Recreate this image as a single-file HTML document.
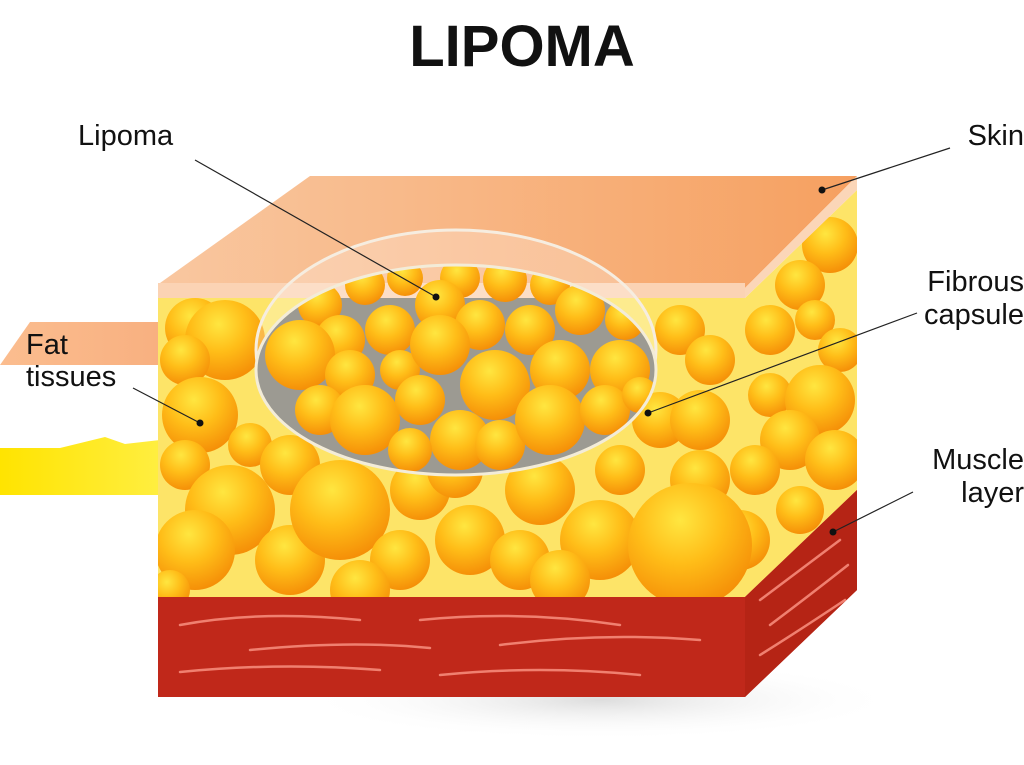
<!DOCTYPE html>
<html><head><meta charset="utf-8"><style>
body{margin:0;background:#fff;width:1024px;height:765px;overflow:hidden}
svg{display:block}
text{font-family:"Liberation Sans",sans-serif;fill:#111}
</style></head><body>
<svg width="1024" height="765" viewBox="0 0 1024 765">
<defs>
<radialGradient id="b" cx="0.42" cy="0.3" r="0.7">
<stop offset="0" stop-color="#ffe640"/><stop offset="0.5" stop-color="#ffbd18"/><stop offset="1" stop-color="#f59008"/></radialGradient>
<linearGradient id="skin" x1="0" x2="1"><stop offset="0" stop-color="#f9c7a0"/><stop offset="1" stop-color="#f6a060"/></linearGradient>
<linearGradient id="flapy" x1="0" x2="1"><stop offset="0" stop-color="#ffe400"/><stop offset="1" stop-color="#ffee40"/></linearGradient>
<linearGradient id="flapp" x1="0" x2="1"><stop offset="0" stop-color="#fbbd8f"/><stop offset="1" stop-color="#f8b080"/></linearGradient>
<radialGradient id="sh" cx="0.5" cy="0.5" r="0.5"><stop offset="0" stop-color="#ddd"/><stop offset="1" stop-color="#fff" stop-opacity="0"/></radialGradient>
<clipPath id="fat"><polygon points="158,298 745,298 857,190 857,490 745,597 158,597"/></clipPath>
<clipPath id="cap"><ellipse cx="456" cy="370" rx="200" ry="105"/></clipPath>
</defs>
<text x="522" y="66" text-anchor="middle" font-size="58" font-weight="bold">LIPOMA</text>
<ellipse cx="600" cy="700" rx="300" ry="40" fill="url(#sh)"/>
<polygon points="30,322 160,322 160,365 0,365" fill="url(#flapp)"/>
<path d="M0,448 L60,448 L105,437 L125,444 L160,440 L160,495 L0,495 Z" fill="url(#flapy)"/>
<polygon points="158,298 745,298 857,190 857,490 745,597 158,597" fill="#fde468"/>
<g clip-path="url(#fat)" fill="url(#b)">
<circle cx="195" cy="328" r="30"/><circle cx="225" cy="340" r="40"/><circle cx="185" cy="360" r="25"/><circle cx="200" cy="415" r="38"/><circle cx="185" cy="465" r="25"/><circle cx="250" cy="445" r="22"/><circle cx="290" cy="465" r="30"/><circle cx="230" cy="510" r="45"/><circle cx="195" cy="550" r="40"/><circle cx="290" cy="560" r="35"/><circle cx="340" cy="510" r="50"/><circle cx="400" cy="560" r="30"/><circle cx="420" cy="490" r="30"/><circle cx="470" cy="540" r="35"/><circle cx="520" cy="560" r="30"/><circle cx="540" cy="490" r="35"/><circle cx="600" cy="540" r="40"/><circle cx="660" cy="420" r="28"/><circle cx="680" cy="330" r="25"/><circle cx="710" cy="360" r="25"/><circle cx="700" cy="420" r="30"/><circle cx="700" cy="480" r="30"/><circle cx="740" cy="540" r="30"/><circle cx="690" cy="545" r="62"/><circle cx="620" cy="470" r="25"/><circle cx="560" cy="580" r="30"/><circle cx="360" cy="590" r="30"/><circle cx="170" cy="590" r="20"/><circle cx="455" cy="470" r="28"/>
<circle cx="830" cy="245" r="28"/><circle cx="800" cy="285" r="25"/><circle cx="770" cy="330" r="25"/><circle cx="815" cy="320" r="20"/><circle cx="840" cy="350" r="22"/><circle cx="770" cy="395" r="22"/><circle cx="820" cy="400" r="35"/><circle cx="790" cy="440" r="30"/><circle cx="835" cy="460" r="30"/><circle cx="800" cy="510" r="24"/><circle cx="755" cy="470" r="25"/>
</g>
<polygon points="158,597 745,597 857,490 857,590 745,697 158,697" fill="#c0281a"/>
<polygon points="745,597 857,490 857,590 745,697" fill="#b52415"/>
<g fill="none" stroke="#f08070" stroke-width="2.5" stroke-linecap="round">
<path d="M180,625 Q260,610 360,620"/><path d="M420,620 Q520,610 620,625"/><path d="M250,650 Q350,640 430,648"/><path d="M500,645 Q600,632 700,640"/><path d="M180,672 Q280,662 380,670"/><path d="M440,675 Q540,665 640,675"/><path d="M760,600 Q800,570 840,540"/><path d="M770,625 Q810,595 848,565"/><path d="M760,655 Q800,630 845,600"/>
</g>
<polygon points="160,283 310,176 857,176 745,288" fill="url(#skin)"/>
<polygon points="745,288 857,176 857,190 745,298" fill="#fbd6b8"/>
<rect x="158" y="283" width="587" height="15" fill="#fbd3b4"/>
<ellipse cx="456" cy="350" rx="200" ry="120" fill="#fff" fill-opacity="0.25" stroke="#f6ede0" stroke-width="3"/>
<path d="M256,298 L656,298 A200,105 0 0 1 456,475 A200,105 0 0 1 256,298 Z" fill="#9c9a92" clip-path="url(#cap)"/>
<g clip-path="url(#cap)" fill="url(#b)">
<circle cx="320" cy="305" r="22"/><circle cx="365" cy="285" r="20"/><circle cx="405" cy="278" r="18"/><circle cx="460" cy="278" r="20"/><circle cx="505" cy="280" r="22"/><circle cx="550" cy="285" r="20"/><circle cx="440" cy="305" r="25"/><circle cx="390" cy="330" r="25"/><circle cx="340" cy="340" r="25"/><circle cx="480" cy="325" r="25"/><circle cx="530" cy="330" r="25"/><circle cx="580" cy="310" r="25"/><circle cx="625" cy="320" r="20"/><circle cx="300" cy="355" r="35"/><circle cx="350" cy="375" r="25"/><circle cx="400" cy="370" r="20"/><circle cx="440" cy="345" r="30"/><circle cx="495" cy="385" r="35"/><circle cx="560" cy="370" r="30"/><circle cx="620" cy="370" r="30"/><circle cx="320" cy="410" r="25"/><circle cx="365" cy="420" r="35"/><circle cx="420" cy="400" r="25"/><circle cx="460" cy="440" r="30"/><circle cx="410" cy="450" r="22"/><circle cx="500" cy="445" r="25"/><circle cx="550" cy="420" r="35"/><circle cx="605" cy="410" r="25"/><circle cx="640" cy="395" r="18"/>
</g>
<ellipse cx="456" cy="370" rx="200" ry="105" fill="none" stroke="#f3ecd8" stroke-width="3"/>
<g stroke="#222" stroke-width="1.2"><line x1="195" y1="160" x2="436" y2="297"/><line x1="950" y1="148" x2="822" y2="190"/><line x1="917" y1="313" x2="648" y2="413"/><line x1="133" y1="388" x2="200" y2="423"/><line x1="913" y1="492" x2="833" y2="532"/></g>
<g fill="#111"><circle cx="436" cy="297" r="3.5"/><circle cx="822" cy="190" r="3.5"/><circle cx="648" cy="413" r="3.5"/><circle cx="200" cy="423" r="3.5"/><circle cx="833" cy="532" r="3.5"/></g>
<g font-size="29">
<text x="78" y="145">Lipoma</text>
<text x="1024" y="145" text-anchor="end">Skin</text>
<text x="1024" y="291" text-anchor="end">Fibrous</text>
<text x="1024" y="324" text-anchor="end">capsule</text>
<text x="26" y="354">Fat</text>
<text x="26" y="386">tissues</text>
<text x="1024" y="469" text-anchor="end">Muscle</text>
<text x="1024" y="502" text-anchor="end">layer</text>
</g>
</svg>
</body></html>
